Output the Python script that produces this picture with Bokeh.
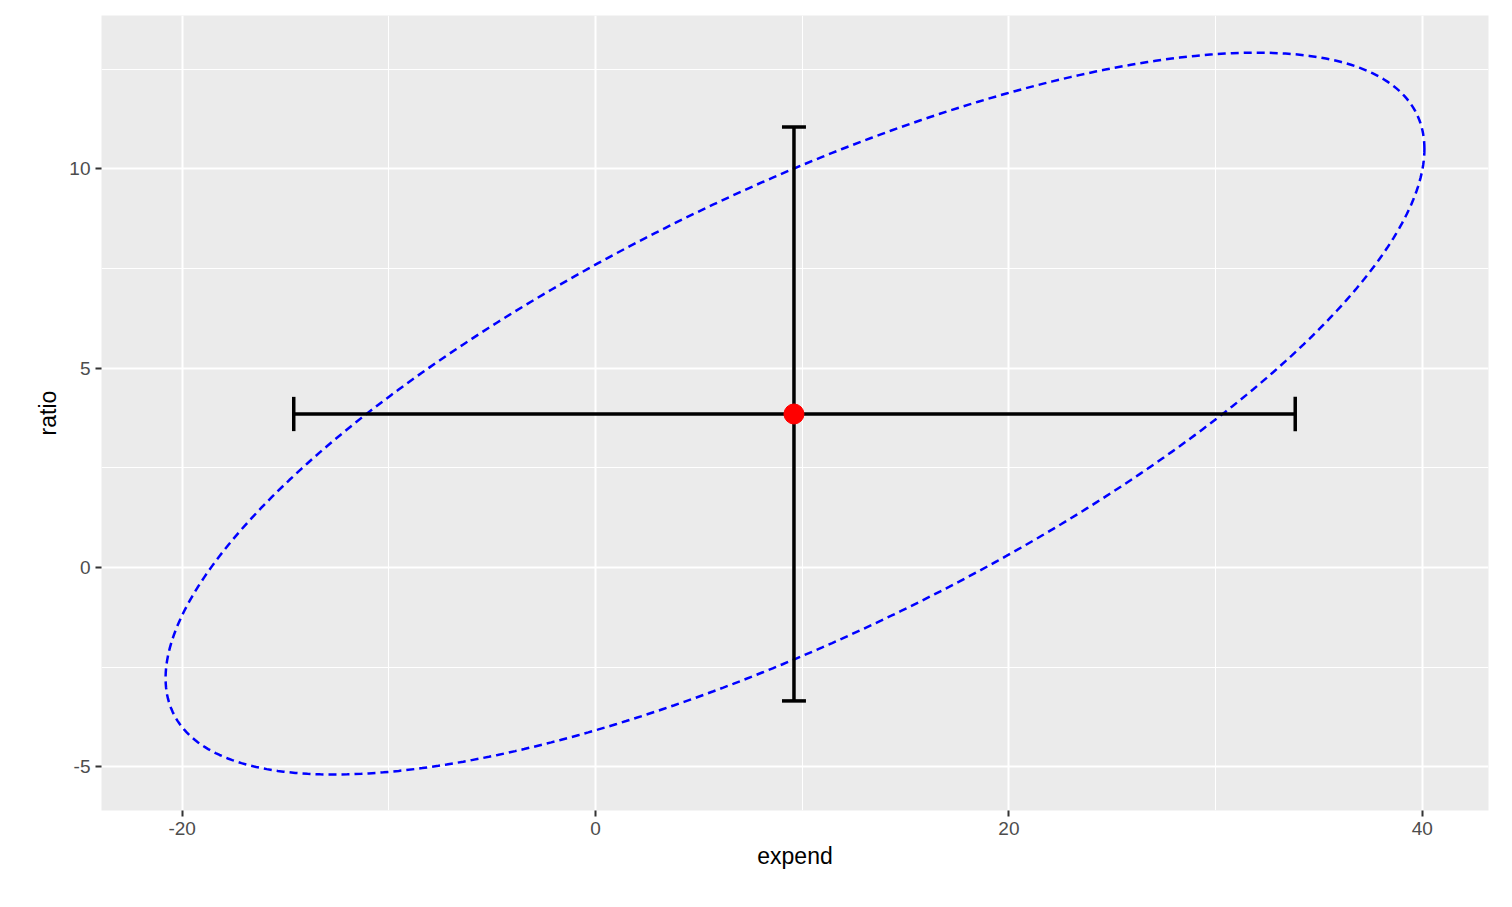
from bokeh.plotting import figure
from bokeh.models import Range1d, FixedTicker
from bokeh.embed import file_html
from bokeh.resources import INLINE
import numpy as np

# estimate point and its intervals
est_x = [9.6]
est_y = [3.85]
x_lo, x_hi = -14.6, 33.85
y_lo, y_hi = -3.35, 11.05

# ellipse shape (centre, half width, tilt, half height)
ell_cx, ell_cy = 9.65, 3.86
ell_ax = 30.45
ell_by = 6.64
ell_cy_sin = 6.16

x_ticks = [-20, 0, 20, 40]
y_ticks = [-5, 0, 5, 10]

t = np.linspace(0, 2 * np.pi, 400)
ell_x = ell_cx + ell_ax * np.cos(t)
ell_y = ell_cy + ell_by * np.cos(t) + ell_cy_sin * np.sin(t)

p = figure(width=1496, height=891, output_backend="svg", toolbar_location=None,
           x_range=Range1d(-23.9, 43.2), y_range=Range1d(-6.1, 13.85),
           min_border_left=101, min_border_right=8, min_border_top=15, min_border_bottom=81)
p.background_fill_color = "#EBEBEB"
p.border_fill_color = "white"
p.outline_line_color = None

p.xaxis.ticker = FixedTicker(ticks=x_ticks, minor_ticks=[-10, 10, 30])
p.yaxis.ticker = FixedTicker(ticks=y_ticks, minor_ticks=[-2.5, 2.5, 7.5, 12.5])
p.xaxis.major_label_overrides = {v: str(v) for v in x_ticks}
p.yaxis.major_label_overrides = {v: str(v) for v in y_ticks}
p.grid.grid_line_color = "white"
p.grid.grid_line_width = 2
p.grid.minor_grid_line_color = "white"
p.grid.minor_grid_line_width = 1
for ax in (p.xaxis, p.yaxis):
    ax.axis_line_color = None
    ax.major_tick_line_color = "#333333"
    ax.major_tick_line_width = 2
    ax.major_tick_out = 6
    ax.major_tick_in = 0
    ax.minor_tick_line_color = None
    ax.major_label_text_font = "Liberation Sans"
    ax.major_label_text_font_size = "19px"
    ax.major_label_text_color = "#4D4D4D"
    ax.axis_label_text_font = "Liberation Sans"
    ax.axis_label_text_font_size = "23px"
    ax.axis_label_text_font_style = "normal"
    ax.axis_label_text_color = "black"
p.xaxis.axis_label = "expend"
p.yaxis.axis_label = "ratio"

p.line(ell_x, ell_y, line_color="blue", line_width=2.5, line_dash="8 5")

cx = 0.58
cy = 0.43
p.segment([x_lo], est_y, [x_hi], est_y, line_color="black", line_width=3.5)
p.segment([x_lo, x_hi], [est_y[0] - cy] * 2, [x_lo, x_hi], [est_y[0] + cy] * 2,
          line_color="black", line_width=3.5)
p.segment(est_x, [y_lo], est_x, [y_hi], line_color="black", line_width=3.5)
p.segment([est_x[0] - cx] * 2, [y_lo, y_hi], [est_x[0] + cx] * 2, [y_lo, y_hi],
          line_color="black", line_width=3.5)
p.scatter(est_x, est_y, size=20, color="red")

open("out.html", "w").write(file_html(p, INLINE))
